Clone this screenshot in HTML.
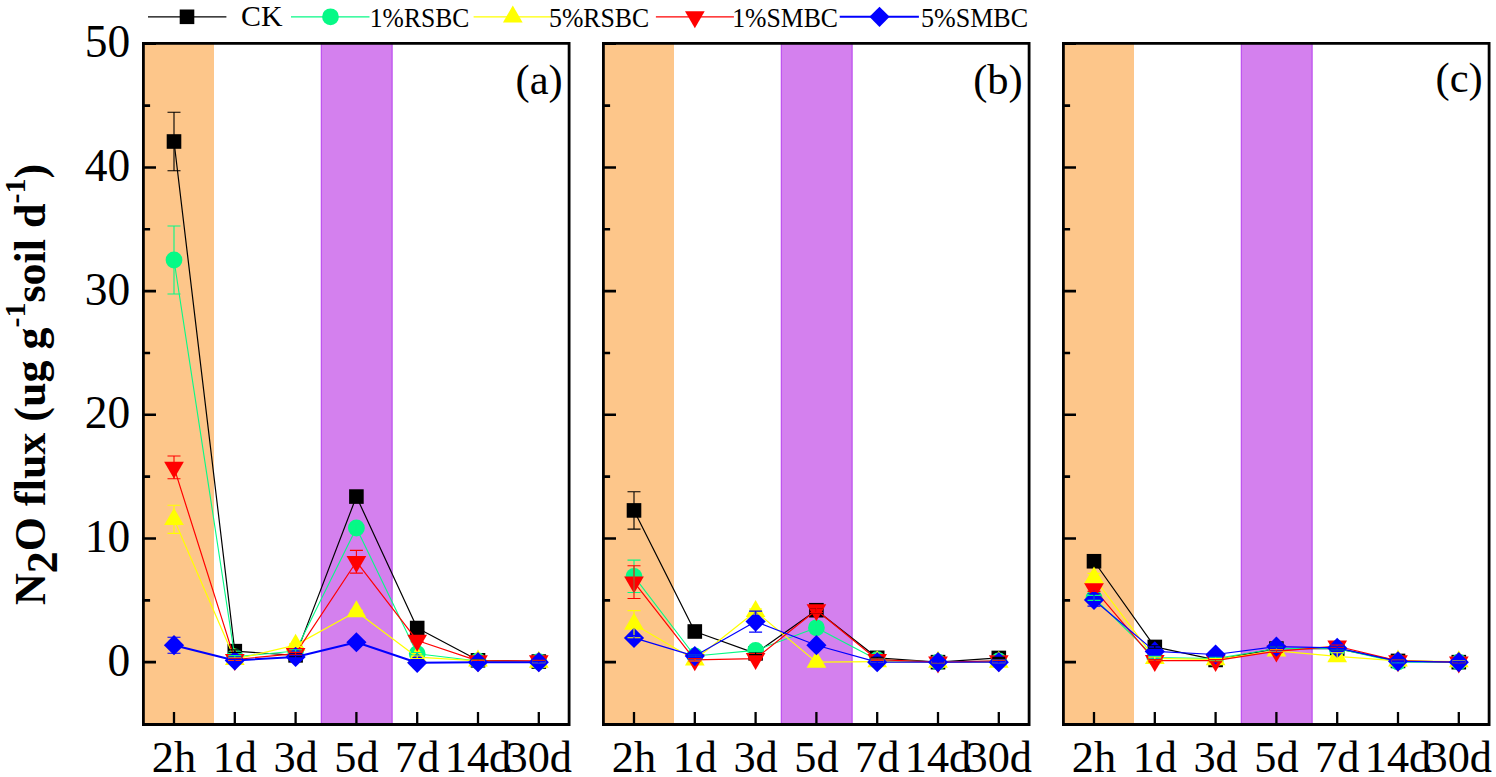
<!DOCTYPE html>
<html><head><meta charset="utf-8"><style>
html,body{margin:0;padding:0;background:#fff;}
svg{display:block;}
</style></head><body>
<svg width="1496" height="777" viewBox="0 0 1496 777">
<rect width="1496" height="777" fill="#fff"/>
<rect x="143.60" y="43.8" width="70.40" height="680.2" fill="#FDC68A"/>
<rect x="320.90" y="43.8" width="71.60" height="680.2" fill="#D480EE"/>
<path d="M321.40,43.8V724.0M392.00,43.8V724.0" stroke="#BE55F0" stroke-width="1.2"/>
<rect x="603.60" y="43.8" width="70.40" height="680.2" fill="#FDC68A"/>
<rect x="780.90" y="43.8" width="71.60" height="680.2" fill="#D480EE"/>
<path d="M781.40,43.8V724.0M852.00,43.8V724.0" stroke="#BE55F0" stroke-width="1.2"/>
<rect x="1063.60" y="43.8" width="70.40" height="680.2" fill="#FDC68A"/>
<rect x="1240.90" y="43.8" width="71.60" height="680.2" fill="#D480EE"/>
<path d="M1241.40,43.8V724.0M1312.00,43.8V724.0" stroke="#BE55F0" stroke-width="1.2"/>
<polyline points="174.00,141.50 234.80,651.16 295.60,655.36 356.40,496.57 417.20,628.03 478.00,660.31 538.80,661.55" fill="none" stroke="#000000" stroke-width="1.2" stroke-linejoin="round"/>
<rect x="166.70" y="134.20" width="14.6" height="14.6" fill="#000000"/>
<rect x="227.50" y="643.86" width="14.6" height="14.6" fill="#000000"/>
<rect x="288.30" y="648.06" width="14.6" height="14.6" fill="#000000"/>
<rect x="349.10" y="489.27" width="14.6" height="14.6" fill="#000000"/>
<rect x="409.90" y="620.73" width="14.6" height="14.6" fill="#000000"/>
<rect x="470.70" y="653.01" width="14.6" height="14.6" fill="#000000"/>
<rect x="531.50" y="654.25" width="14.6" height="14.6" fill="#000000"/>
<polyline points="634.00,510.42 694.80,631.49 755.60,653.38 816.40,610.22 877.20,657.84 938.00,662.16 998.80,657.96" fill="none" stroke="#000000" stroke-width="1.2" stroke-linejoin="round"/>
<rect x="626.70" y="503.12" width="14.6" height="14.6" fill="#000000"/>
<rect x="687.50" y="624.19" width="14.6" height="14.6" fill="#000000"/>
<rect x="748.30" y="646.08" width="14.6" height="14.6" fill="#000000"/>
<rect x="809.10" y="602.92" width="14.6" height="14.6" fill="#000000"/>
<rect x="869.90" y="650.54" width="14.6" height="14.6" fill="#000000"/>
<rect x="930.70" y="654.86" width="14.6" height="14.6" fill="#000000"/>
<rect x="991.50" y="650.66" width="14.6" height="14.6" fill="#000000"/>
<polyline points="1094.00,561.25 1154.80,646.95 1215.60,659.94 1276.40,648.56 1337.20,648.56 1398.00,660.93 1458.80,662.16" fill="none" stroke="#000000" stroke-width="1.2" stroke-linejoin="round"/>
<rect x="1086.70" y="553.95" width="14.6" height="14.6" fill="#000000"/>
<rect x="1147.50" y="639.65" width="14.6" height="14.6" fill="#000000"/>
<rect x="1208.30" y="652.64" width="14.6" height="14.6" fill="#000000"/>
<rect x="1269.10" y="641.26" width="14.6" height="14.6" fill="#000000"/>
<rect x="1329.90" y="641.26" width="14.6" height="14.6" fill="#000000"/>
<rect x="1390.70" y="653.63" width="14.6" height="14.6" fill="#000000"/>
<rect x="1451.50" y="654.86" width="14.6" height="14.6" fill="#000000"/>
<polyline points="174.00,259.98 234.80,656.85 295.60,651.03 356.40,527.98 417.20,653.75 478.00,660.93 538.80,661.55" fill="none" stroke="#06F986" stroke-width="1.1" stroke-linejoin="round"/>
<circle cx="174.00" cy="259.98" r="8.4" fill="#06F986"/>
<circle cx="234.80" cy="656.85" r="8.4" fill="#06F986"/>
<circle cx="295.60" cy="651.03" r="8.4" fill="#06F986"/>
<circle cx="356.40" cy="527.98" r="8.4" fill="#06F986"/>
<circle cx="417.20" cy="653.75" r="8.4" fill="#06F986"/>
<circle cx="478.00" cy="660.93" r="8.4" fill="#06F986"/>
<circle cx="538.80" cy="661.55" r="8.4" fill="#06F986"/>
<polyline points="634.00,576.33 694.80,655.98 755.60,650.41 816.40,627.78 877.20,659.69 938.00,662.16 998.80,660.93" fill="none" stroke="#06F986" stroke-width="1.1" stroke-linejoin="round"/>
<circle cx="634.00" cy="576.33" r="8.4" fill="#06F986"/>
<circle cx="694.80" cy="655.98" r="8.4" fill="#06F986"/>
<circle cx="755.60" cy="650.41" r="8.4" fill="#06F986"/>
<circle cx="816.40" cy="627.78" r="8.4" fill="#06F986"/>
<circle cx="877.20" cy="659.69" r="8.4" fill="#06F986"/>
<circle cx="938.00" cy="662.16" r="8.4" fill="#06F986"/>
<circle cx="998.80" cy="660.93" r="8.4" fill="#06F986"/>
<polyline points="1094.00,597.85 1154.80,657.59 1215.60,658.45 1276.40,648.56 1337.20,648.56 1398.00,662.16 1458.80,662.16" fill="none" stroke="#06F986" stroke-width="1.1" stroke-linejoin="round"/>
<circle cx="1094.00" cy="597.85" r="8.4" fill="#06F986"/>
<circle cx="1154.80" cy="657.59" r="8.4" fill="#06F986"/>
<circle cx="1215.60" cy="658.45" r="8.4" fill="#06F986"/>
<circle cx="1276.40" cy="648.56" r="8.4" fill="#06F986"/>
<circle cx="1337.20" cy="648.56" r="8.4" fill="#06F986"/>
<circle cx="1398.00" cy="662.16" r="8.4" fill="#06F986"/>
<circle cx="1458.80" cy="662.16" r="8.4" fill="#06F986"/>
<polyline points="174.00,519.32 234.80,659.32 295.60,645.10 356.40,611.58 417.20,657.22 478.00,660.93 538.80,662.16" fill="none" stroke="#FFFF00" stroke-width="1.2" stroke-linejoin="round"/>
<polygon points="174.00,507.99 183.85,524.99 164.15,524.99" fill="#FFFF00"/>
<polygon points="234.80,647.99 244.65,664.99 224.95,664.99" fill="#FFFF00"/>
<polygon points="295.60,633.76 305.45,650.76 285.75,650.76" fill="#FFFF00"/>
<polygon points="356.40,600.25 366.25,617.25 346.55,617.25" fill="#FFFF00"/>
<polygon points="417.20,645.88 427.05,662.88 407.35,662.88" fill="#FFFF00"/>
<polygon points="478.00,649.59 487.85,666.59 468.15,666.59" fill="#FFFF00"/>
<polygon points="538.80,650.83 548.65,667.83 528.95,667.83" fill="#FFFF00"/>
<polyline points="634.00,624.20 694.80,659.81 755.60,611.46 816.40,662.16 877.20,661.55 938.00,662.16 998.80,662.16" fill="none" stroke="#FFFF00" stroke-width="1.2" stroke-linejoin="round"/>
<polygon points="634.00,612.86 643.85,629.86 624.15,629.86" fill="#FFFF00"/>
<polygon points="694.80,648.48 704.65,665.48 684.95,665.48" fill="#FFFF00"/>
<polygon points="755.60,600.12 765.45,617.12 745.75,617.12" fill="#FFFF00"/>
<polygon points="816.40,650.83 826.25,667.83 806.55,667.83" fill="#FFFF00"/>
<polygon points="877.20,650.21 887.05,667.21 867.35,667.21" fill="#FFFF00"/>
<polygon points="938.00,650.83 947.85,667.83 928.15,667.83" fill="#FFFF00"/>
<polygon points="998.80,650.83 1008.65,667.83 988.95,667.83" fill="#FFFF00"/>
<polyline points="1094.00,577.94 1154.80,658.45 1215.60,659.69 1276.40,650.79 1337.20,656.47 1398.00,660.93 1458.80,661.55" fill="none" stroke="#FFFF00" stroke-width="1.2" stroke-linejoin="round"/>
<polygon points="1094.00,566.61 1103.85,583.61 1084.15,583.61" fill="#FFFF00"/>
<polygon points="1154.80,647.12 1164.65,664.12 1144.95,664.12" fill="#FFFF00"/>
<polygon points="1215.60,648.36 1225.45,665.36 1205.75,665.36" fill="#FFFF00"/>
<polygon points="1276.40,639.45 1286.25,656.45 1266.55,656.45" fill="#FFFF00"/>
<polygon points="1337.20,645.14 1347.05,662.14 1327.35,662.14" fill="#FFFF00"/>
<polygon points="1398.00,649.59 1407.85,666.59 1388.15,666.59" fill="#FFFF00"/>
<polygon points="1458.80,650.21 1468.65,667.21 1448.95,667.21" fill="#FFFF00"/>
<polyline points="174.00,467.38 234.80,659.57 295.60,653.63 356.40,561.74 417.20,640.52 478.00,660.93 538.80,660.93" fill="none" stroke="#FF0000" stroke-width="1.2" stroke-linejoin="round"/>
<polygon points="164.15,461.71 183.85,461.71 174.00,478.71" fill="#FF0000"/>
<polygon points="224.95,653.90 244.65,653.90 234.80,670.90" fill="#FF0000"/>
<polygon points="285.75,647.96 305.45,647.96 295.60,664.96" fill="#FF0000"/>
<polygon points="346.55,556.07 366.25,556.07 356.40,573.07" fill="#FF0000"/>
<polygon points="407.35,634.85 427.05,634.85 417.20,651.85" fill="#FF0000"/>
<polygon points="468.15,655.26 487.85,655.26 478.00,672.26" fill="#FF0000"/>
<polygon points="528.95,655.26 548.65,655.26 538.80,672.26" fill="#FF0000"/>
<polyline points="634.00,582.15 694.80,659.81 755.60,658.58 816.40,609.97 877.20,659.69 938.00,662.16 998.80,660.93" fill="none" stroke="#FF0000" stroke-width="1.2" stroke-linejoin="round"/>
<polygon points="624.15,576.48 643.85,576.48 634.00,593.48" fill="#FF0000"/>
<polygon points="684.95,654.15 704.65,654.15 694.80,671.15" fill="#FF0000"/>
<polygon points="745.75,652.91 765.45,652.91 755.60,669.91" fill="#FF0000"/>
<polygon points="806.55,604.31 826.25,604.31 816.40,621.31" fill="#FF0000"/>
<polygon points="867.35,654.02 887.05,654.02 877.20,671.02" fill="#FF0000"/>
<polygon points="928.15,656.50 947.85,656.50 938.00,673.50" fill="#FF0000"/>
<polygon points="988.95,655.26 1008.65,655.26 998.80,672.26" fill="#FF0000"/>
<polyline points="1094.00,588.95 1154.80,660.68 1215.60,660.68 1276.40,651.28 1337.20,646.21 1398.00,660.93 1458.80,662.16" fill="none" stroke="#FF0000" stroke-width="1.2" stroke-linejoin="round"/>
<polygon points="1084.15,583.28 1103.85,583.28 1094.00,600.28" fill="#FF0000"/>
<polygon points="1144.95,655.01 1164.65,655.01 1154.80,672.01" fill="#FF0000"/>
<polygon points="1205.75,655.01 1225.45,655.01 1215.60,672.01" fill="#FF0000"/>
<polygon points="1266.55,645.61 1286.25,645.61 1276.40,662.61" fill="#FF0000"/>
<polygon points="1327.35,640.54 1347.05,640.54 1337.20,657.54" fill="#FF0000"/>
<polygon points="1388.15,655.26 1407.85,655.26 1398.00,672.26" fill="#FF0000"/>
<polygon points="1448.95,656.50 1468.65,656.50 1458.80,673.50" fill="#FF0000"/>
<polyline points="174.00,645.22 234.80,660.43 295.60,656.97 356.40,642.25 417.20,662.78 478.00,662.16 538.80,662.16" fill="none" stroke="#0000FF" stroke-width="2.0" stroke-linejoin="round"/>
<polygon points="174.00,635.12 184.10,645.22 174.00,655.32 163.90,645.22" fill="#0000FF"/>
<polygon points="234.80,650.33 244.90,660.43 234.80,670.53 224.70,660.43" fill="#0000FF"/>
<polygon points="295.60,646.87 305.70,656.97 295.60,667.07 285.50,656.97" fill="#0000FF"/>
<polygon points="356.40,632.15 366.50,642.25 356.40,652.35 346.30,642.25" fill="#0000FF"/>
<polygon points="417.20,652.68 427.30,662.78 417.20,672.88 407.10,662.78" fill="#0000FF"/>
<polygon points="478.00,652.06 488.10,662.16 478.00,672.26 467.90,662.16" fill="#0000FF"/>
<polygon points="538.80,652.06 548.90,662.16 538.80,672.26 528.70,662.16" fill="#0000FF"/>
<polyline points="634.00,637.92 694.80,656.10 755.60,621.60 816.40,645.22 877.20,662.16 938.00,662.16 998.80,662.16" fill="none" stroke="#0000FF" stroke-width="1.2" stroke-linejoin="round"/>
<polygon points="634.00,627.82 644.10,637.92 634.00,648.02 623.90,637.92" fill="#0000FF"/>
<polygon points="694.80,646.00 704.90,656.10 694.80,666.20 684.70,656.10" fill="#0000FF"/>
<polygon points="755.60,611.50 765.70,621.60 755.60,631.70 745.50,621.60" fill="#0000FF"/>
<polygon points="816.40,635.12 826.50,645.22 816.40,655.32 806.30,645.22" fill="#0000FF"/>
<polygon points="877.20,652.06 887.30,662.16 877.20,672.26 867.10,662.16" fill="#0000FF"/>
<polygon points="938.00,652.06 948.10,662.16 938.00,672.26 927.90,662.16" fill="#0000FF"/>
<polygon points="998.80,652.06 1008.90,662.16 998.80,672.26 988.70,662.16" fill="#0000FF"/>
<polyline points="1094.00,599.96 1154.80,651.40 1215.60,654.50 1276.40,646.58 1337.20,647.94 1398.00,661.30 1458.80,662.16" fill="none" stroke="#0000FF" stroke-width="1.2" stroke-linejoin="round"/>
<polygon points="1094.00,589.86 1104.10,599.96 1094.00,610.06 1083.90,599.96" fill="#0000FF"/>
<polygon points="1154.80,641.30 1164.90,651.40 1154.80,661.50 1144.70,651.40" fill="#0000FF"/>
<polygon points="1215.60,644.40 1225.70,654.50 1215.60,664.60 1205.50,654.50" fill="#0000FF"/>
<polygon points="1276.40,636.48 1286.50,646.58 1276.40,656.68 1266.30,646.58" fill="#0000FF"/>
<polygon points="1337.20,637.84 1347.30,647.94 1337.20,658.04 1327.10,647.94" fill="#0000FF"/>
<polygon points="1398.00,651.20 1408.10,661.30 1398.00,671.40 1387.90,661.30" fill="#0000FF"/>
<polygon points="1458.80,652.06 1468.90,662.16 1458.80,672.26 1448.70,662.16" fill="#0000FF"/>
<path d="M174.00,112.31V170.69M167.50,112.31H180.50M167.50,170.69H180.50M234.80,649.92V652.39M228.30,649.92H241.30M228.30,652.39H241.30M295.60,654.12V656.60M289.10,654.12H302.10M289.10,656.60H302.10M356.40,492.86V500.28M349.90,492.86H362.90M349.90,500.28H362.90M417.20,625.56V630.50M410.70,625.56H423.70M410.70,630.50H423.70M478.00,659.69V660.93M471.50,659.69H484.50M471.50,660.93H484.50M538.80,660.93V662.16M532.30,660.93H545.30M532.30,662.16H545.30" stroke="#000000" stroke-width="1.1" fill="none"/>
<path d="M634.00,491.74V529.09M627.50,491.74H640.50M627.50,529.09H640.50M694.80,629.02V633.97M688.30,629.02H701.30M688.30,633.97H701.30M755.60,652.15V654.62M749.10,652.15H762.10M749.10,654.62H762.10M816.40,607.75V612.69M809.90,607.75H822.90M809.90,612.69H822.90M877.20,657.22V658.45M870.70,657.22H883.70M870.70,658.45H883.70M938.00,661.55V662.78M931.50,661.55H944.50M931.50,662.78H944.50M998.80,657.34V658.58M992.30,657.34H1005.30M992.30,658.58H1005.30" stroke="#000000" stroke-width="1.1" fill="none"/>
<path d="M1094.00,557.54V564.96M1087.50,557.54H1100.50M1087.50,564.96H1100.50M1154.80,645.72V648.19M1148.30,645.72H1161.30M1148.30,648.19H1161.30M1215.60,658.70V661.17M1209.10,658.70H1222.10M1209.10,661.17H1222.10M1276.40,647.32V649.80M1269.90,647.32H1282.90M1269.90,649.80H1282.90M1337.20,647.32V649.80M1330.70,647.32H1343.70M1330.70,649.80H1343.70M1398.00,660.31V661.55M1391.50,660.31H1404.50M1391.50,661.55H1404.50M1458.80,661.55V662.78M1452.30,661.55H1465.30M1452.30,662.78H1465.30" stroke="#000000" stroke-width="1.1" fill="none"/>
<path d="M174.00,225.97V293.99M167.50,225.97H180.50M167.50,293.99H180.50M234.80,655.61V658.08M228.30,655.61H241.30M228.30,658.08H241.30M295.60,649.80V652.27M289.10,649.80H302.10M289.10,652.27H302.10M356.40,524.27V531.69M349.90,524.27H362.90M349.90,531.69H362.90M417.20,652.52V654.99M410.70,652.52H423.70M410.70,654.99H423.70M478.00,660.31V661.55M471.50,660.31H484.50M471.50,661.55H484.50M538.80,660.93V662.16M532.30,660.93H545.30M532.30,662.16H545.30" stroke="#06F986" stroke-width="1.1" fill="none"/>
<path d="M634.00,560.13V592.54M627.50,560.13H640.50M627.50,592.54H640.50M694.80,654.74V657.22M688.30,654.74H701.30M688.30,657.22H701.30M755.60,649.18V651.65M749.10,649.18H762.10M749.10,651.65H762.10M816.40,625.31V630.26M809.90,625.31H822.90M809.90,630.26H822.90M877.20,659.07V660.31M870.70,659.07H883.70M870.70,660.31H883.70M938.00,661.55V662.78M931.50,661.55H944.50M931.50,662.78H944.50M998.80,660.31V661.55M992.30,660.31H1005.30M992.30,661.55H1005.30" stroke="#06F986" stroke-width="1.1" fill="none"/>
<path d="M1094.00,595.38V600.33M1087.50,595.38H1100.50M1087.50,600.33H1100.50M1154.80,656.35V658.82M1148.30,656.35H1161.30M1148.30,658.82H1161.30M1215.60,657.22V659.69M1209.10,657.22H1222.10M1209.10,659.69H1222.10M1276.40,647.32V649.80M1269.90,647.32H1282.90M1269.90,649.80H1282.90M1337.20,647.32V649.80M1330.70,647.32H1343.70M1330.70,649.80H1343.70M1398.00,661.55V662.78M1391.50,661.55H1404.50M1391.50,662.78H1404.50M1458.80,661.55V662.78M1452.30,661.55H1465.30M1452.30,662.78H1465.30" stroke="#06F986" stroke-width="1.1" fill="none"/>
<path d="M174.00,505.22V533.42M167.50,505.22H180.50M167.50,533.42H180.50M234.80,658.08V660.56M228.30,658.08H241.30M228.30,660.56H241.30M295.60,643.86V646.33M289.10,643.86H302.10M289.10,646.33H302.10M356.40,610.34V612.82M349.90,610.34H362.90M349.90,612.82H362.90M417.20,655.98V658.45M410.70,655.98H423.70M410.70,658.45H423.70M478.00,660.31V661.55M471.50,660.31H484.50M471.50,661.55H484.50M538.80,661.55V662.78M532.30,661.55H545.30M532.30,662.78H545.30" stroke="#FFFF00" stroke-width="1.1" fill="none"/>
<path d="M634.00,610.59V637.80M627.50,610.59H640.50M627.50,637.80H640.50M694.80,658.58V661.05M688.30,658.58H701.30M688.30,661.05H701.30M755.60,608.98V613.93M749.10,608.98H762.10M749.10,613.93H762.10M816.40,660.93V663.40M809.90,660.93H822.90M809.90,663.40H822.90M877.20,660.93V662.16M870.70,660.93H883.70M870.70,662.16H883.70M938.00,661.55V662.78M931.50,661.55H944.50M931.50,662.78H944.50M998.80,661.55V662.78M992.30,661.55H1005.30M992.30,662.78H1005.30" stroke="#FFFF00" stroke-width="1.1" fill="none"/>
<path d="M1094.00,573.37V582.52M1087.50,573.37H1100.50M1087.50,582.52H1100.50M1154.80,657.22V659.69M1148.30,657.22H1161.30M1148.30,659.69H1161.30M1215.60,658.45V660.93M1209.10,658.45H1222.10M1209.10,660.93H1222.10M1276.40,649.55V652.02M1269.90,649.55H1282.90M1269.90,652.02H1282.90M1337.20,652.76V660.18M1330.70,652.76H1343.70M1330.70,660.18H1343.70M1398.00,660.31V661.55M1391.50,660.31H1404.50M1391.50,661.55H1404.50M1458.80,660.93V662.16M1452.30,660.93H1465.30M1452.30,662.16H1465.30" stroke="#FFFF00" stroke-width="1.1" fill="none"/>
<path d="M174.00,456.00V478.76M167.50,456.00H180.50M167.50,478.76H180.50M234.80,658.33V660.80M228.30,658.33H241.30M228.30,660.80H241.30M295.60,652.39V654.87M289.10,652.39H302.10M289.10,654.87H302.10M356.40,550.36V573.12M349.90,550.36H362.90M349.90,573.12H362.90M417.20,639.28V641.76M410.70,639.28H423.70M410.70,641.76H423.70M478.00,660.31V661.55M471.50,660.31H484.50M471.50,661.55H484.50M538.80,660.31V661.55M532.30,660.31H545.30M532.30,661.55H545.30" stroke="#FF0000" stroke-width="1.1" fill="none"/>
<path d="M634.00,565.82V598.47M627.50,565.82H640.50M627.50,598.47H640.50M694.80,658.58V661.05M688.30,658.58H701.30M688.30,661.05H701.30M755.60,657.34V659.81M749.10,657.34H762.10M749.10,659.81H762.10M816.40,607.50V612.45M809.90,607.50H822.90M809.90,612.45H822.90M877.20,659.07V660.31M870.70,659.07H883.70M870.70,660.31H883.70M938.00,661.55V662.78M931.50,661.55H944.50M931.50,662.78H944.50M998.80,660.31V661.55M992.30,660.31H1005.30M992.30,661.55H1005.30" stroke="#FF0000" stroke-width="1.1" fill="none"/>
<path d="M1094.00,586.48V591.42M1087.50,586.48H1100.50M1087.50,591.42H1100.50M1154.80,659.44V661.92M1148.30,659.44H1161.30M1148.30,661.92H1161.30M1215.60,659.44V661.92M1209.10,659.44H1222.10M1209.10,661.92H1222.10M1276.40,650.04V652.52M1269.90,650.04H1282.90M1269.90,652.52H1282.90M1337.20,644.97V647.45M1330.70,644.97H1343.70M1330.70,647.45H1343.70M1398.00,660.31V661.55M1391.50,660.31H1404.50M1391.50,661.55H1404.50M1458.80,661.55V662.78M1452.30,661.55H1465.30M1452.30,662.78H1465.30" stroke="#FF0000" stroke-width="1.1" fill="none"/>
<path d="M174.00,637.18V653.26M167.50,637.18H180.50M167.50,653.26H180.50M234.80,659.20V661.67M228.30,659.20H241.30M228.30,661.67H241.30M295.60,655.73V658.21M289.10,655.73H302.10M289.10,658.21H302.10M356.40,641.02V643.49M349.90,641.02H362.90M349.90,643.49H362.90M417.20,662.16V663.40M410.70,662.16H423.70M410.70,663.40H423.70M478.00,661.55V662.78M471.50,661.55H484.50M471.50,662.78H484.50M538.80,661.55V662.78M532.30,661.55H545.30M532.30,662.78H545.30" stroke="#0000FF" stroke-width="1.1" fill="none"/>
<path d="M634.00,635.45V640.40M627.50,635.45H640.50M627.50,640.40H640.50M694.80,654.87V657.34M688.30,654.87H701.30M688.30,657.34H701.30M755.60,611.09V632.11M749.10,611.09H762.10M749.10,632.11H762.10M816.40,643.98V646.46M809.90,643.98H822.90M809.90,646.46H822.90M877.20,661.55V662.78M870.70,661.55H883.70M870.70,662.78H883.70M938.00,661.55V662.78M931.50,661.55H944.50M931.50,662.78H944.50M998.80,661.55V662.78M992.30,661.55H1005.30M992.30,662.78H1005.30" stroke="#0000FF" stroke-width="1.1" fill="none"/>
<path d="M1094.00,593.77V606.14M1087.50,593.77H1100.50M1087.50,606.14H1100.50M1154.80,650.17V652.64M1148.30,650.17H1161.30M1148.30,652.64H1161.30M1215.60,653.26V655.73M1209.10,653.26H1222.10M1209.10,655.73H1222.10M1276.40,645.34V647.82M1269.90,645.34H1282.90M1269.90,647.82H1282.90M1337.20,646.70V649.18M1330.70,646.70H1343.70M1330.70,649.18H1343.70M1398.00,660.68V661.92M1391.50,660.68H1404.50M1391.50,661.92H1404.50M1458.80,661.55V662.78M1452.30,661.55H1465.30M1452.30,662.78H1465.30" stroke="#0000FF" stroke-width="1.1" fill="none"/>
<path d="M143.40,43.4H569.10V724.5H143.40Z" fill="none" stroke="#000" stroke-width="2.8" stroke-linejoin="miter"/>
<path d="M143.60,662.16H156.00 M143.60,538.49H156.00 M143.60,414.82H156.00 M143.60,291.15H156.00 M143.60,167.47H156.00 M143.60,43.80H156.00 M143.60,600.33H150.10 M143.60,476.65H150.10 M143.60,352.98H150.10 M143.60,229.31H150.10 M143.60,105.64H150.10" stroke="#000" stroke-width="2.6" fill="none"/>
<path d="M174.00,724.00V711.90 M234.80,724.00V711.90 M295.60,724.00V711.90 M356.40,724.00V711.90 M417.20,724.00V711.90 M478.00,724.00V711.90 M538.80,724.00V711.90" stroke="#000" stroke-width="2.3" fill="none"/>
<text x="174.00" y="772.2" font-size="44.3" text-anchor="middle" font-family='"Liberation Serif", serif'>2h</text>
<text x="234.80" y="772.2" font-size="44.3" text-anchor="middle" font-family='"Liberation Serif", serif'>1d</text>
<text x="295.60" y="772.2" font-size="44.3" text-anchor="middle" font-family='"Liberation Serif", serif'>3d</text>
<text x="356.40" y="772.2" font-size="44.3" text-anchor="middle" font-family='"Liberation Serif", serif'>5d</text>
<text x="417.20" y="772.2" font-size="44.3" text-anchor="middle" font-family='"Liberation Serif", serif'>7d</text>
<text x="478.00" y="772.2" font-size="44.3" text-anchor="middle" font-family='"Liberation Serif", serif'>14d</text>
<text x="538.80" y="772.2" font-size="44.3" text-anchor="middle" font-family='"Liberation Serif", serif'>30d</text>
<text x="562.70" y="94.3" font-size="42.5" text-anchor="end" font-family='"Liberation Serif", serif'>(a)</text>
<path d="M603.40,43.4H1029.10V724.5H603.40Z" fill="none" stroke="#000" stroke-width="2.8" stroke-linejoin="miter"/>
<path d="M603.60,662.16H616.00 M603.60,538.49H616.00 M603.60,414.82H616.00 M603.60,291.15H616.00 M603.60,167.47H616.00 M603.60,43.80H616.00 M603.60,600.33H610.10 M603.60,476.65H610.10 M603.60,352.98H610.10 M603.60,229.31H610.10 M603.60,105.64H610.10" stroke="#000" stroke-width="2.6" fill="none"/>
<path d="M634.00,724.00V711.90 M694.80,724.00V711.90 M755.60,724.00V711.90 M816.40,724.00V711.90 M877.20,724.00V711.90 M938.00,724.00V711.90 M998.80,724.00V711.90" stroke="#000" stroke-width="2.3" fill="none"/>
<text x="634.00" y="772.2" font-size="44.3" text-anchor="middle" font-family='"Liberation Serif", serif'>2h</text>
<text x="694.80" y="772.2" font-size="44.3" text-anchor="middle" font-family='"Liberation Serif", serif'>1d</text>
<text x="755.60" y="772.2" font-size="44.3" text-anchor="middle" font-family='"Liberation Serif", serif'>3d</text>
<text x="816.40" y="772.2" font-size="44.3" text-anchor="middle" font-family='"Liberation Serif", serif'>5d</text>
<text x="877.20" y="772.2" font-size="44.3" text-anchor="middle" font-family='"Liberation Serif", serif'>7d</text>
<text x="938.00" y="772.2" font-size="44.3" text-anchor="middle" font-family='"Liberation Serif", serif'>14d</text>
<text x="998.80" y="772.2" font-size="44.3" text-anchor="middle" font-family='"Liberation Serif", serif'>30d</text>
<text x="1022.70" y="93.5" font-size="42.5" text-anchor="end" font-family='"Liberation Serif", serif'>(b)</text>
<path d="M1063.40,43.4H1489.10V724.5H1063.40Z" fill="none" stroke="#000" stroke-width="2.8" stroke-linejoin="miter"/>
<path d="M1063.60,662.16H1076.00 M1063.60,538.49H1076.00 M1063.60,414.82H1076.00 M1063.60,291.15H1076.00 M1063.60,167.47H1076.00 M1063.60,43.80H1076.00 M1063.60,600.33H1070.10 M1063.60,476.65H1070.10 M1063.60,352.98H1070.10 M1063.60,229.31H1070.10 M1063.60,105.64H1070.10" stroke="#000" stroke-width="2.6" fill="none"/>
<path d="M1094.00,724.00V711.90 M1154.80,724.00V711.90 M1215.60,724.00V711.90 M1276.40,724.00V711.90 M1337.20,724.00V711.90 M1398.00,724.00V711.90 M1458.80,724.00V711.90" stroke="#000" stroke-width="2.3" fill="none"/>
<text x="1094.00" y="772.2" font-size="44.3" text-anchor="middle" font-family='"Liberation Serif", serif'>2h</text>
<text x="1154.80" y="772.2" font-size="44.3" text-anchor="middle" font-family='"Liberation Serif", serif'>1d</text>
<text x="1215.60" y="772.2" font-size="44.3" text-anchor="middle" font-family='"Liberation Serif", serif'>3d</text>
<text x="1276.40" y="772.2" font-size="44.3" text-anchor="middle" font-family='"Liberation Serif", serif'>5d</text>
<text x="1337.20" y="772.2" font-size="44.3" text-anchor="middle" font-family='"Liberation Serif", serif'>7d</text>
<text x="1398.00" y="772.2" font-size="44.3" text-anchor="middle" font-family='"Liberation Serif", serif'>14d</text>
<text x="1458.80" y="772.2" font-size="44.3" text-anchor="middle" font-family='"Liberation Serif", serif'>30d</text>
<text x="1482.70" y="91.8" font-size="42.5" text-anchor="end" font-family='"Liberation Serif", serif'>(c)</text>
<text x="130.3" y="675.66" font-size="45.5" text-anchor="end" font-family='"Liberation Serif", serif'>0</text>
<text x="130.3" y="551.99" font-size="45.5" text-anchor="end" font-family='"Liberation Serif", serif'>10</text>
<text x="130.3" y="428.32" font-size="45.5" text-anchor="end" font-family='"Liberation Serif", serif'>20</text>
<text x="130.3" y="304.65" font-size="45.5" text-anchor="end" font-family='"Liberation Serif", serif'>30</text>
<text x="130.3" y="180.97" font-size="45.5" text-anchor="end" font-family='"Liberation Serif", serif'>40</text>
<text x="130.3" y="57.30" font-size="45.5" text-anchor="end" font-family='"Liberation Serif", serif'>50</text>
<text transform="translate(44.6,605) rotate(-90)" font-size="44" font-weight="bold" font-family='"Liberation Serif", serif'>N<tspan dy="12.6">2</tspan><tspan dy="-12.6">O flux (ug g</tspan><tspan font-size="30" dy="-20">-1</tspan><tspan dy="20">soil d</tspan><tspan font-size="30" dy="-20">-1</tspan><tspan dy="20">)</tspan></text>
<path d="M148,16.8H226.4" stroke="#000000" stroke-width="1.3"/>
<rect x="179.70" y="9.50" width="14.6" height="14.6" fill="#000000"/>
<text x="241.0" y="25.9" font-size="28.9" textLength="41.5" lengthAdjust="spacingAndGlyphs" font-family='"Liberation Serif", serif'>CK</text>
<path d="M291,16.8H369.5" stroke="#06F986" stroke-width="1.3"/>
<circle cx="330.50" cy="16.80" r="8.4" fill="#06F986"/>
<text x="369.8" y="26.7" font-size="26.4" textLength="99.5" lengthAdjust="spacingAndGlyphs" font-family='"Liberation Serif", serif'>1%RSBC</text>
<path d="M473.6,16.8H550.9" stroke="#FFFF00" stroke-width="1.3"/>
<polygon points="512.80,5.47 522.65,22.47 502.95,22.47" fill="#FFFF00"/>
<text x="549.0" y="26.7" font-size="26.4" textLength="100.2" lengthAdjust="spacingAndGlyphs" font-family='"Liberation Serif", serif'>5%RSBC</text>
<path d="M655.9,16.8H733.9" stroke="#FF0000" stroke-width="1.3"/>
<polygon points="685.00,11.13 704.70,11.13 694.85,28.13" fill="#FF0000"/>
<text x="732.2" y="26.7" font-size="26.4" textLength="105.8" lengthAdjust="spacingAndGlyphs" font-family='"Liberation Serif", serif'>1%SMBC</text>
<path d="M839.7,16.8H918.9" stroke="#0000FF" stroke-width="2.0"/>
<polygon points="879.50,6.70 889.60,16.80 879.50,26.90 869.40,16.80" fill="#0000FF"/>
<text x="921.0" y="26.7" font-size="26.4" textLength="107.1" lengthAdjust="spacingAndGlyphs" font-family='"Liberation Serif", serif'>5%SMBC</text>
</svg>
</body></html>
